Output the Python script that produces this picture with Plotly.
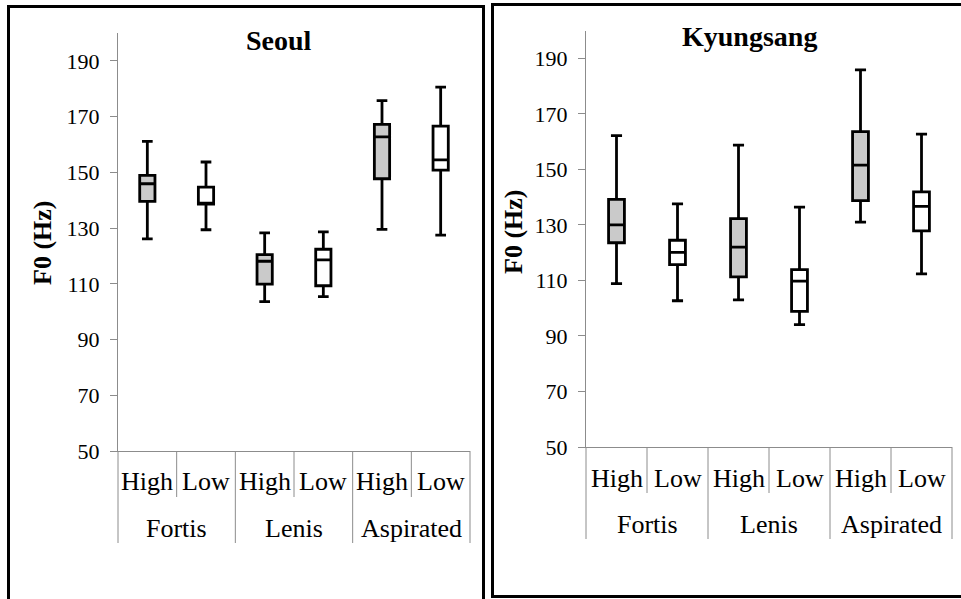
import plotly.graph_objects as go

# ---------------- data ----------------
levels = ["High", "Low", "High", "Low", "High", "Low"]
groups = ["Fortis", "Lenis", "Aspirated"]
ytick_vals = [50, 70, 90, 110, 130, 150, 170, 190]

seoul_upper = [161.1, 153.7, 128.3, 128.6, 175.7, 180.6]
seoul_q3 = [148.9, 144.7, 120.5, 122.4, 167.2, 166.6]
seoul_median = [145.9, 138.8, 118.1, 118.6, 162.7, 154.5]
seoul_q1 = [139.6, 138.6, 109.9, 109.3, 147.7, 150.8]
seoul_lower = [126.1, 129.4, 103.6, 105.4, 129.5, 127.5]

kyung_upper = [162.2, 137.6, 158.8, 136.4, 185.9, 162.7]
kyung_q3 = [139.2, 124.5, 132.3, 113.9, 163.6, 141.9]
kyung_median = [130.0, 120.1, 122.0, 109.8, 151.6, 136.7]
kyung_q1 = [123.6, 115.7, 111.3, 98.9, 138.8, 127.9]
kyung_lower = [108.9, 102.7, 103.0, 94.1, 131.0, 112.4]

W, H = 961, 599
FONT = "Liberation Serif"
AXIS_GRAY = "#8c8c8c"
FILL_HIGH = "#cacaca"


def px(x):
    return x / W


def py(y):
    return 1 - y / H


fig = go.Figure()

panels = [
    dict(name="Seoul", xa="x", ya="y", data=(seoul_lower, seoul_q1, seoul_median, seoul_q3, seoul_upper)),
    dict(name="Kyungsang", xa="x2", ya="y2", data=(kyung_lower, kyung_q1, kyung_median, kyung_q3, kyung_upper)),
]

positions = list(range(len(levels)))
for p in panels:
    lo, q1, med, q3, up = p["data"]
    for start, fill in [(0, FILL_HIGH), (1, "white")]:
        idx = positions[start::2]
        fig.add_trace(go.Box(
            x=idx,
            lowerfence=[lo[i] for i in idx],
            q1=[q1[i] for i in idx],
            median=[med[i] for i in idx],
            q3=[q3[i] for i in idx],
            upperfence=[up[i] for i in idx],
            fillcolor=fill,
            line=dict(color="black", width=2.8),
            width=0.26,
            whiskerwidth=0.7,
            boxpoints=False,
            hoverinfo="skip",
            xaxis=p["xa"], yaxis=p["ya"],
            showlegend=False,
        ))

# axes geometry (pixels)
geo = {
    "x": dict(x0=118, x1=470, y0=451, y1=33),
    "x2": dict(x0=586, x1=952, y0=447, y1=30.7),
}

yax_common = dict(
    range=[50, 200], tickvals=ytick_vals, ticks="outside", ticklen=7,
    tickcolor=AXIS_GRAY, tickwidth=1, showline=True, linecolor=AXIS_GRAY, linewidth=1,
    showgrid=False, zeroline=False, ticklabelstandoff=6, automargin=False,
    tickfont=dict(family=FONT, size=22, color="black"),
)
xax_common = dict(
    range=[-0.5, 5.5], showticklabels=False, ticks="", showline=True, automargin=False,
    linecolor=AXIS_GRAY, linewidth=1, showgrid=False, zeroline=False,
)

g1, g2 = geo["x"], geo["x2"]
fig.update_layout(
    template="none",
    width=W, height=H, autosize=False,
    margin=dict(l=0, r=0, t=0, b=0, pad=0, autoexpand=False),
    paper_bgcolor="white", plot_bgcolor="white",
    boxmode="overlay",
    showlegend=False,
    xaxis=dict(domain=[px(g1["x0"]), px(g1["x1"])], anchor="y", **xax_common),
    yaxis=dict(domain=[py(g1["y0"]), py(g1["y1"])], anchor="x", **yax_common),
    xaxis2=dict(domain=[px(g2["x0"]), px(g2["x1"])], anchor="y2", **xax_common),
    yaxis2=dict(domain=[py(g2["y0"]), py(g2["y1"])], anchor="x2", **yax_common),
)

shapes = []
annotations = []
for p in panels:
    xa, ya = p["xa"], p["ya"]
    g = geo[xa]
    h = g["y0"] - g["y1"]
    inner_y = -46 / h
    outer_y = -92 / h
    n = len(levels)
    for k in range(n + 1):
        ybot = outer_y if k % 2 == 0 else inner_y
        shapes.append(dict(type="line", xref=f"{xa} domain", yref=f"{ya} domain",
                           x0=k / n, x1=k / n, y0=0, y1=ybot,
                           line=dict(color=AXIS_GRAY, width=1)))
    for i, lab in enumerate(levels):
        annotations.append(dict(text=lab, xref=xa, yref=f"{ya} domain", x=i, y=-31 / h,
                                showarrow=False, xanchor="center", yanchor="middle",
                                font=dict(family=FONT, size=26, color="black")))
    for j, grp in enumerate(groups):
        annotations.append(dict(text=grp, xref=xa, yref=f"{ya} domain", x=2 * j + 0.5, y=-77 / h,
                                showarrow=False, xanchor="center", yanchor="middle",
                                font=dict(family=FONT, size=26, color="black")))

# titles and y labels
annotations.append(dict(text="<b>Seoul</b>", xref="paper", yref="paper", x=px(279), y=py(41),
                        showarrow=False, xanchor="center", yanchor="middle",
                        font=dict(family=FONT, size=28, color="black")))
annotations.append(dict(text="<b>Kyungsang</b>", xref="paper", yref="paper", x=px(749), y=py(37),
                        showarrow=False, xanchor="center", yanchor="middle",
                        font=dict(family=FONT, size=28, color="black")))
annotations.append(dict(text="<b>F0 (Hz)</b>", xref="paper", yref="paper", x=px(43), y=py(243),
                        showarrow=False, xanchor="center", yanchor="middle", textangle=-90,
                        font=dict(family=FONT, size=26, color="black")))
annotations.append(dict(text="<b>F0 (Hz)</b>", xref="paper", yref="paper", x=px(513), y=py(232),
                        showarrow=False, xanchor="center", yanchor="middle", textangle=-90,
                        font=dict(family=FONT, size=26, color="black")))

# panel borders
shapes.append(dict(type="rect", xref="paper", yref="paper", x0=px(8.5), x1=px(483.5), y0=py(640), y1=py(6.5),
                   line=dict(color="black", width=3), fillcolor="rgba(0,0,0,0)", layer="below"))
shapes.append(dict(type="rect", xref="paper", yref="paper", x0=px(492.5), x1=px(1000), y0=py(596.5), y1=py(4.5),
                   line=dict(color="black", width=3), fillcolor="rgba(0,0,0,0)", layer="below"))

fig.update_layout(shapes=shapes, annotations=annotations)

fig.write_html(
    "out.html",
    config={"displayModeBar": False},
    post_script="document.body.style.margin='0';document.body.style.overflow='hidden';",
)
